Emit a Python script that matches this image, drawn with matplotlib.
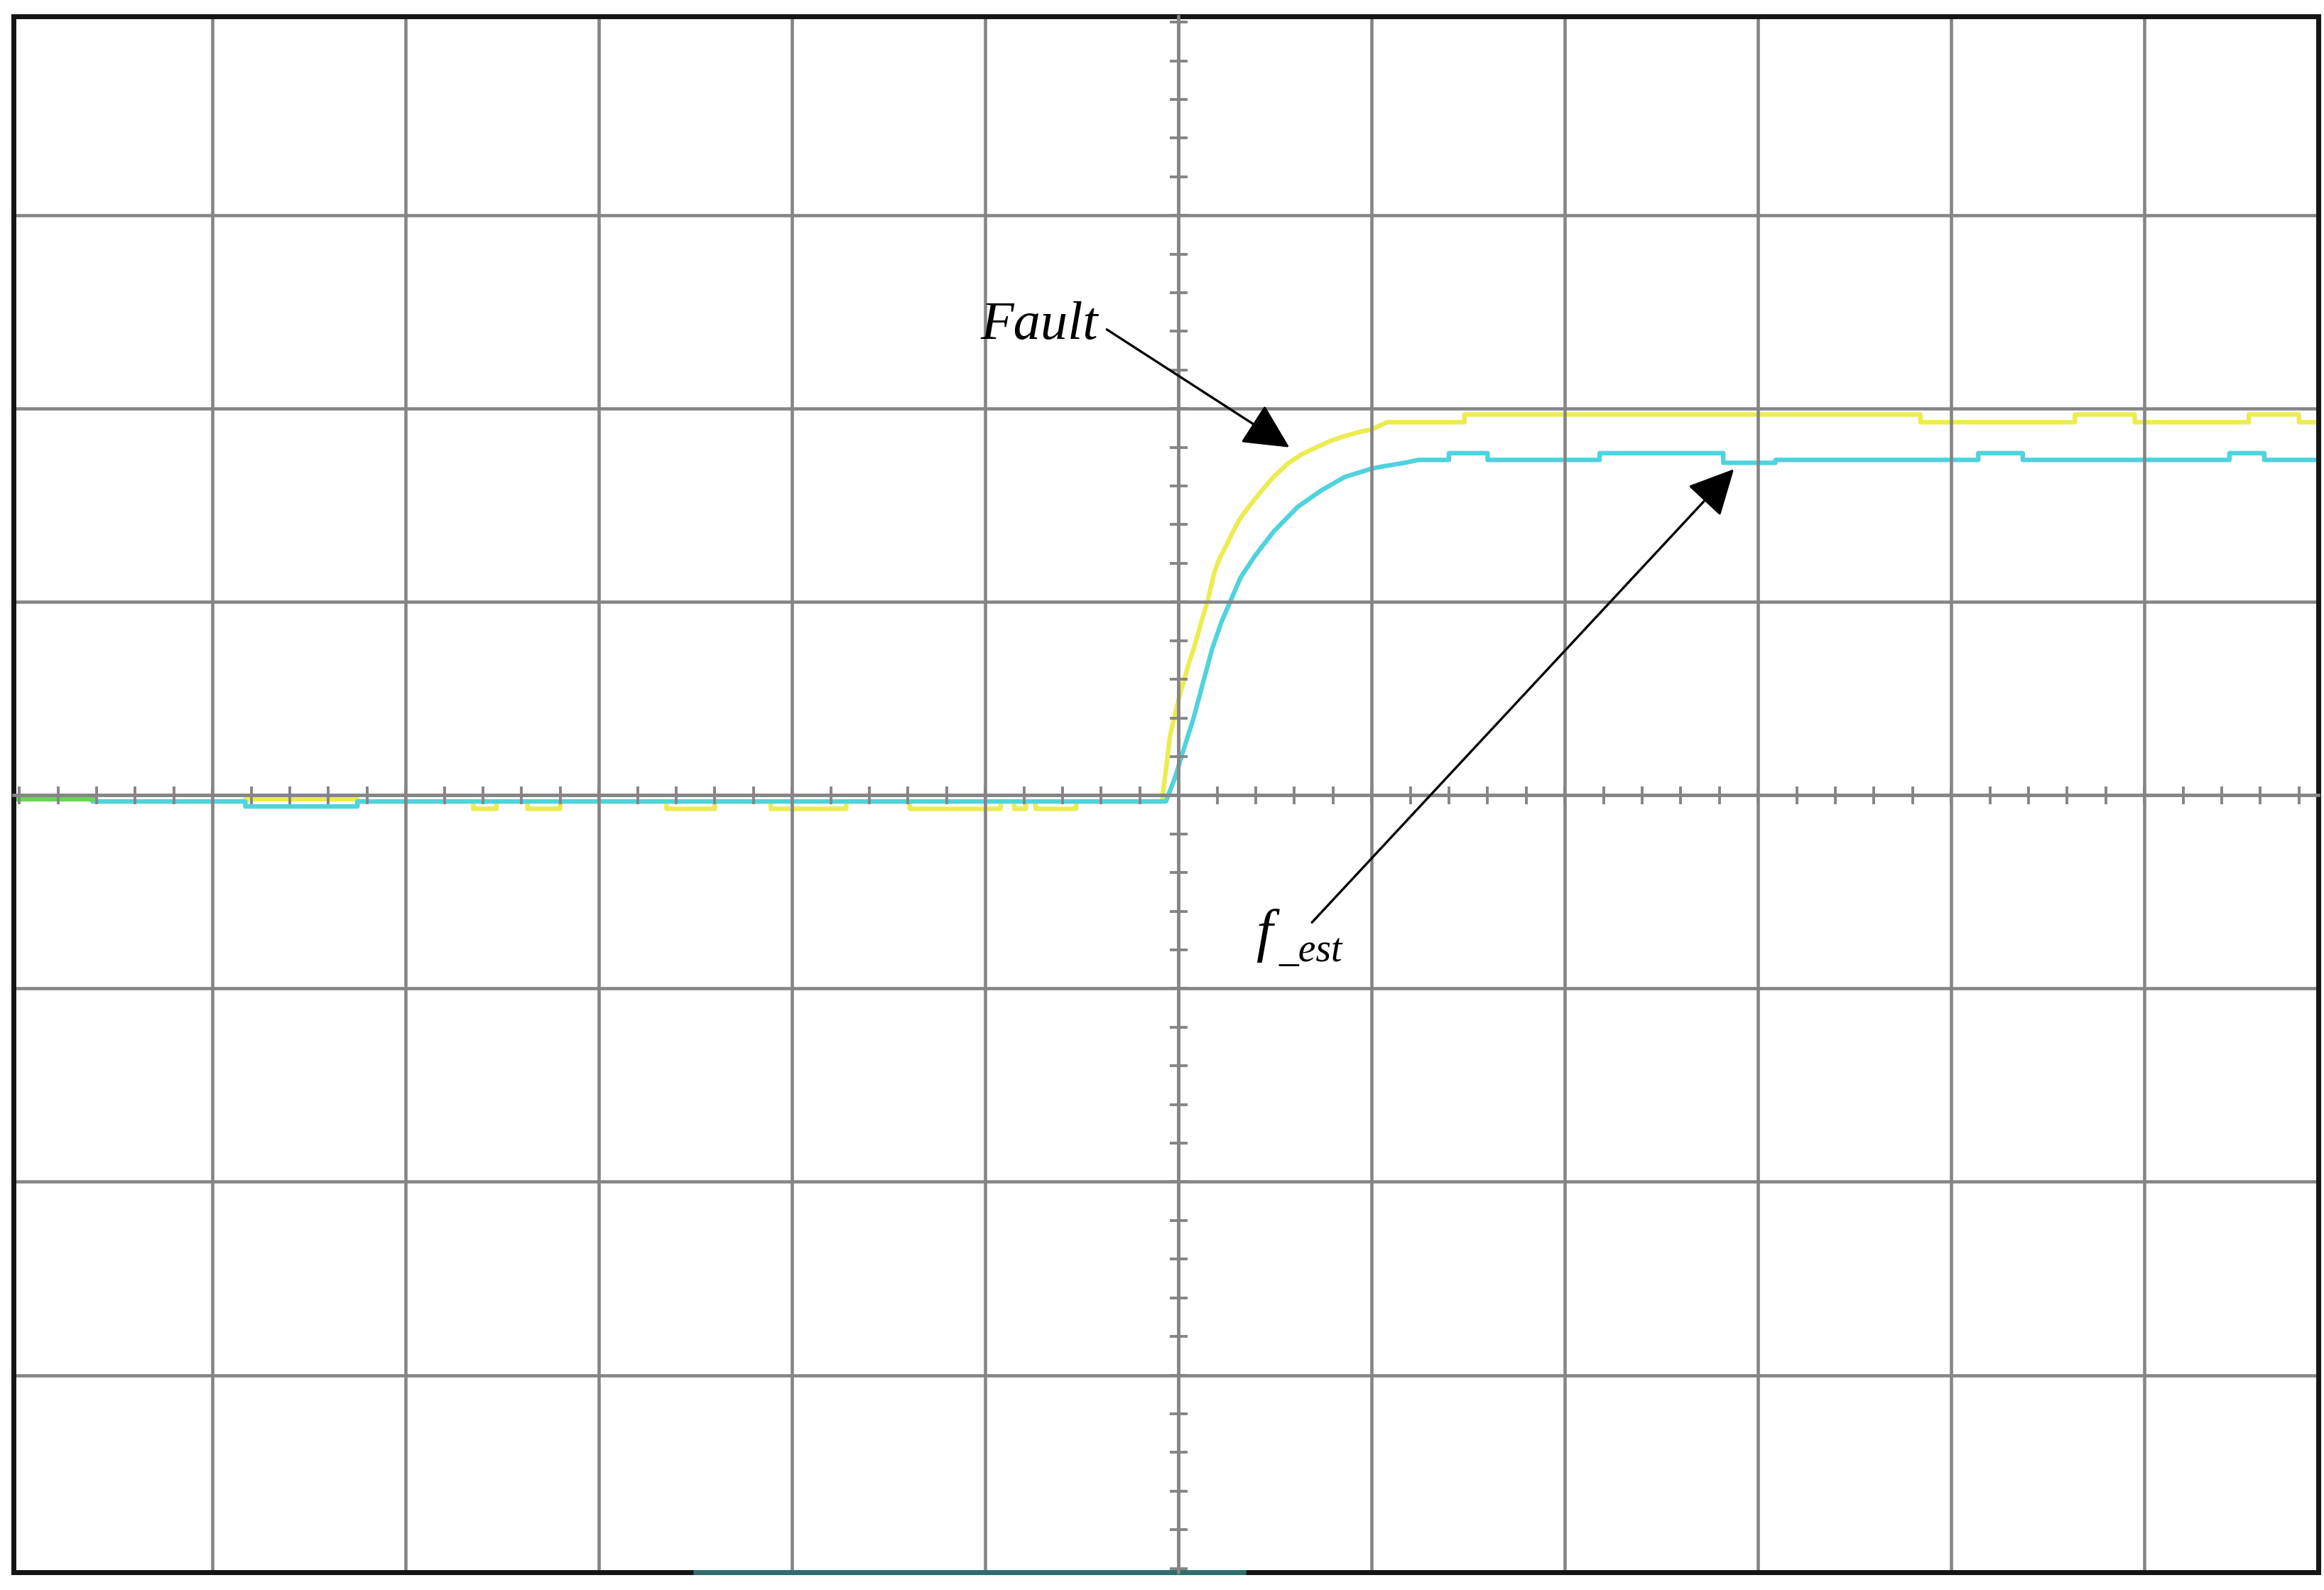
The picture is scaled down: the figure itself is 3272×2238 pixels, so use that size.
import numpy as np
import matplotlib
matplotlib.use('Agg')
from matplotlib import pyplot as plt

# oscilloscope capture, units are screen divisions
fault_x = [-6.03, -5.62, -5.62, -4.83, -4.83, -4.25, -4.25, -3.65, -3.65, -3.53, -3.53,
           -3.37, -3.37, -3.20, -3.20, -2.65, -2.65, -2.40, -2.40, -2.11, -2.11, -1.72,
           -1.72, -1.39, -1.39, -0.92, -0.92, -0.85, -0.85, -0.79, -0.79, -0.74, -0.74,
           -0.53, -0.53, -0.085,
           -0.082, -0.06, -0.045, -0.02, 0.004, 0.03, 0.053, 0.08, 0.10, 0.125, 0.15,
           0.186, 0.215, 0.249, 0.285, 0.322, 0.37, 0.42, 0.49, 0.567, 0.64,
           0.714, 0.79, 0.861, 0.93, 1.0, 1.08,
           1.48, 1.48, 3.84, 3.84, 4.64, 4.64, 4.95, 4.95, 5.54, 5.54, 5.80, 5.80, 5.95]
fault_y = [-0.02, -0.02, -0.032, -0.032, -0.02, -0.02, -0.032, -0.032, -0.07, -0.07, -0.032,
           -0.032, -0.07, -0.07, -0.032, -0.032, -0.07, -0.07, -0.032, -0.032, -0.07, -0.07,
           -0.032, -0.032, -0.07, -0.07, -0.032, -0.032, -0.07, -0.07, -0.032, -0.032, -0.07,
           -0.07, -0.032, -0.032,
           0.0, 0.17, 0.30, 0.41, 0.51, 0.60, 0.68, 0.76, 0.83, 0.92, 1.0,
           1.155, 1.23, 1.295, 1.37, 1.436, 1.50, 1.563, 1.645, 1.717, 1.765,
           1.80, 1.835, 1.858, 1.878, 1.893, 1.93,
           1.93, 1.97, 1.97, 1.93, 1.93, 1.97, 1.97, 1.93, 1.93, 1.97, 1.97, 1.93, 1.93]

fest_x = [-6.03, -5.62, -5.62, -4.83, -4.83, -4.25, -4.25, -0.065,
          -0.02, 0.028, 0.077, 0.126, 0.175, 0.224, 0.273, 0.322, 0.396, 0.494, 0.617,
          0.739, 0.861, 1.0, 1.05, 1.17, 1.24,
          1.40, 1.40, 1.60, 1.60, 2.18, 2.18, 2.82, 2.82, 3.09, 3.09, 4.14, 4.14, 4.37,
          4.37, 5.44, 5.44, 5.62, 5.62, 5.95]
fest_y = [-0.02, -0.02, -0.032, -0.032, -0.058, -0.058, -0.032, -0.032,
          0.085, 0.24, 0.395, 0.578, 0.76, 0.90, 1.014, 1.127, 1.239, 1.366, 1.492,
          1.577, 1.647, 1.69, 1.70, 1.72, 1.735,
          1.735, 1.77, 1.77, 1.735, 1.735, 1.77, 1.77, 1.72, 1.72, 1.735, 1.735, 1.77, 1.77,
          1.735, 1.735, 1.77, 1.77, 1.735, 1.735]

# where both traces sit on top of each other the scope shows green
overlap_x = [-6.03, -5.62]
overlap_y = [-0.02, -0.02]

# teal smear along the bottom edge of the screen
edge_x = [-2.51, 0.35]

xmin, xmax = -6.03, 5.90
ymin, ymax = -4.02, 4.03
grid_c = '#858585'

fig = plt.figure(figsize=(32.72, 22.38), dpi=100)
rect = [19/3272, 25/2238, (3264-19)/3272, (2213-23)/2238]
ax = fig.add_axes(rect)
ax.set_xlim(xmin, xmax)
ax.set_ylim(ymin, ymax)

ax.plot(fault_x, fault_y, color='#ecec50', lw=4.6, solid_joinstyle='round', zorder=2)
ax.plot(fest_x, fest_y, color='#4fd3dd', lw=4.6, solid_joinstyle='round', zorder=2.1)
ax.plot(overlap_x, overlap_y, color='#6ad455', lw=4.6, zorder=2.2)

ax.set_xticks(np.arange(-5, 6))
ax.set_yticks(np.arange(-3, 4))
ax.tick_params(length=0, labelbottom=False, labelleft=False)
ax.set_axisbelow(False)
ax.grid(True, color=grid_c, lw=3.3)
for s in ax.spines.values():
    s.set_color('#151515')
    s.set_linewidth(5)
    s.set_zorder(4)

ax.hlines(0, edge_x[0], edge_x[1], transform=ax.get_xaxis_transform(),
          color='#2f6e6e', lw=5, zorder=4.5, clip_on=False)

# centre axes with the small division marks
ax2 = fig.add_axes(rect, facecolor='none')
ax2.set_xlim(xmin, xmax)
ax2.set_ylim(ymin, ymax)
for k in ['top', 'right']:
    ax2.spines[k].set_visible(False)
ax2.spines['left'].set_position(('data', 0))
ax2.spines['bottom'].set_position(('data', 0))
for k in ['left', 'bottom']:
    ax2.spines[k].set_color(grid_c)
    ax2.spines[k].set_linewidth(3.3)
ax2.set_xticks(np.round(np.arange(-6, 6, 0.2), 1))
ax2.set_yticks(np.round(np.arange(-4, 4.01, 0.2), 1))
ax2.tick_params(direction='inout', length=18, width=2.8, color=grid_c,
                labelbottom=False, labelleft=False)

# labels and arrows
ax2.text(-1.026, 2.36, 'Fault', family='Liberation Serif', style='italic',
         fontsize=55, ha='left', va='baseline')
ax2.annotate('', xy=(0.574, 1.80), xytext=(-0.371, 2.41),
             arrowprops=dict(arrowstyle='-|>', lw=2.4, color='black',
                             mutation_scale=100, shrinkA=0, shrinkB=0))
ax2.text(0.40, -0.80, 'f', family='Liberation Serif', style='italic',
         fontsize=60, ha='left', va='baseline')
ax2.text(0.52, -0.86, '_est', family='Liberation Serif', style='italic',
         fontsize=40, ha='left', va='baseline')
ax2.annotate('', xy=(2.875, 1.6875), xytext=(0.691, -0.658),
             arrowprops=dict(arrowstyle='-|>', lw=2.4, color='black',
                             mutation_scale=100, shrinkA=0, shrinkB=0))

plt.savefig('out.png', dpi=100, facecolor='white')
